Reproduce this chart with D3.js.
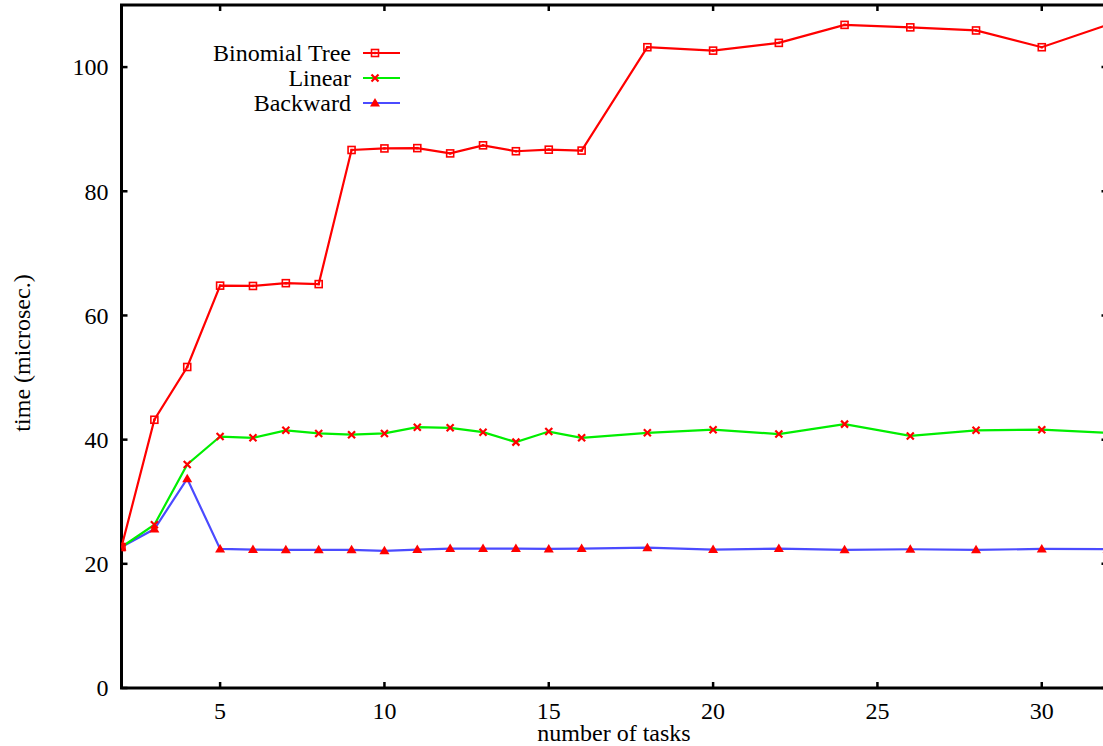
<!DOCTYPE html>
<html>
<head>
<meta charset="utf-8">
<script src="https://cdn.jsdelivr.net/npm/d3@7"></script>
<style>
html,body{margin:0;padding:0;background:#fff;overflow:hidden;}
svg{display:block;}
text{font-family:"Liberation Serif","Times New Roman",serif;fill:#000;}
</style>
</head>
<body>
<script>
const tasks = [2,3,4,5,6,7,8,9,10,11,12,13,14,15,16,18,20,22,24,26,28,30,32];
const binomialTree = [22.7,43.2,51.7,64.8,64.75,65.2,65.05,86.65,86.9,86.95,86.1,87.4,86.45,86.7,86.55,103.2,102.65,103.9,106.8,106.4,105.9,103.2,106.8];
const linear = [22.7,26.3,36.0,40.5,40.3,41.5,41.0,40.8,41.0,42.0,41.9,41.2,39.6,41.3,40.3,41.1,41.6,40.9,42.5,40.6,41.5,41.6,41.1];
const backward = [22.7,25.6,33.7,22.4,22.3,22.25,22.25,22.25,22.1,22.3,22.45,22.45,22.45,22.4,22.45,22.6,22.3,22.45,22.25,22.35,22.25,22.4,22.35];
const xTicks = [5,10,15,20,25,30];
const yTicks = [0,20,40,60,80,100];
const seriesNames = ["Binomial Tree","Linear","Backward"];
const seriesColors = ["#ff0000","#00ee00","#4b4bff"];
const markerTypes = ["square","cross","triangle"];

(function(){
const W = 1103, H = 746;
const mL = 121.5, mR = 1107.5, mT = 5, mB = 688;

const svg = d3.select("body").append("svg").attr("width", W).attr("height", H);
const x = d3.scaleLinear().domain([2,32]).range([mL,mR]);
const y = d3.scaleLinear().domain([0,110]).range([mB,mT]);

svg.append("clipPath").attr("id","clip").append("rect")
  .attr("x",mL).attr("y",mT).attr("width",mR-mL).attr("height",mB-mT);

const fs = 24;
svg.append("g").selectAll("text").data(yTicks).join("text")
  .attr("x", mL-13).attr("y", d=>y(d)).attr("dy","0.35em")
  .attr("text-anchor","end").attr("font-size",fs).text(d=>d);
svg.append("g").selectAll("text").data(xTicks).join("text")
  .attr("x", d=>x(d)).attr("y", mB+31)
  .attr("text-anchor","middle").attr("font-size",fs).text(d=>d);

svg.append("text").attr("x", 614).attr("y", 741)
  .attr("text-anchor","middle").attr("font-size",fs).text("number of tasks");
svg.append("text").attr("transform",`translate(30,353) rotate(-90)`)
  .attr("text-anchor","middle").attr("font-size",fs).text("time (microsec.)");

const tl = 6;
const tg = svg.append("g").attr("stroke","#000").attr("stroke-width",2.5);
yTicks.forEach(d=>{
  tg.append("line").attr("x1",mL).attr("x2",mL+tl).attr("y1",y(d)).attr("y2",y(d));
  tg.append("line").attr("x1",mR).attr("x2",mR-tl).attr("y1",y(d)).attr("y2",y(d));
});
xTicks.forEach(d=>{
  tg.append("line").attr("x1",x(d)).attr("x2",x(d)).attr("y1",mB).attr("y2",mB-tl);
  tg.append("line").attr("x1",x(d)).attr("x2",x(d)).attr("y1",mT).attr("y2",mT+tl);
});

svg.append("rect").attr("x",mL).attr("y",mT).attr("width",mR-mL).attr("height",mB-mT)
  .attr("fill","none").attr("stroke","#000").attr("stroke-width",3);

function drawMarker(g, type, cx, cy){
  const c = "#ff0000";
  if(type==="square"){
    g.append("rect").attr("x",cx-3.5).attr("y",cy-3.5).attr("width",7).attr("height",7)
      .attr("fill","none").attr("stroke",c).attr("stroke-width",1.6);
    g.append("rect").attr("x",cx-1.2).attr("y",cy-1.2).attr("width",2.4).attr("height",2.4).attr("fill",c);
  } else if(type==="cross"){
    g.append("path").attr("d",`M${cx-3.5},${cy-3.5}L${cx+3.5},${cy+3.5}M${cx-3.5},${cy+3.5}L${cx+3.5},${cy-3.5}`)
      .attr("stroke",c).attr("stroke-width",2.2).attr("fill","none");
  } else {
    g.append("path").attr("d",`M${cx},${cy-5}L${cx+5},${cy+3.5}L${cx-5},${cy+3.5}Z`).attr("fill",c);
  }
}

const allSeries = [binomialTree, linear, backward];
const line = d3.line().x(d=>x(d[0])).y(d=>y(d[1]));
const plot = svg.append("g").attr("clip-path","url(#clip)");
[2,1,0].forEach(i=>{
  const pts = tasks.map((t,j)=>[t, allSeries[i][j]]);
  plot.append("path").datum(pts).attr("d",line).attr("fill","none")
    .attr("stroke",seriesColors[i]).attr("stroke-width",2.2);
});
[2,1,0].forEach(i=>{
  const g = plot.append("g");
  tasks.forEach((t,j)=>drawMarker(g, markerTypes[i], x(t), y(allSeries[i][j])));
});

const lg = svg.append("g");
const ly = [53, 78, 103];
seriesNames.forEach((n,i)=>{
  lg.append("text").attr("x",351).attr("y",ly[i]).attr("dy","0.35em")
    .attr("text-anchor","end").attr("font-size",fs).text(n);
  lg.append("line").attr("x1",363).attr("x2",400).attr("y1",ly[i]).attr("y2",ly[i])
    .attr("stroke",seriesColors[i]).attr("stroke-width",2.2);
  drawMarker(lg, markerTypes[i], 375, ly[i]);
});
})();
</script>
</body>
</html>
